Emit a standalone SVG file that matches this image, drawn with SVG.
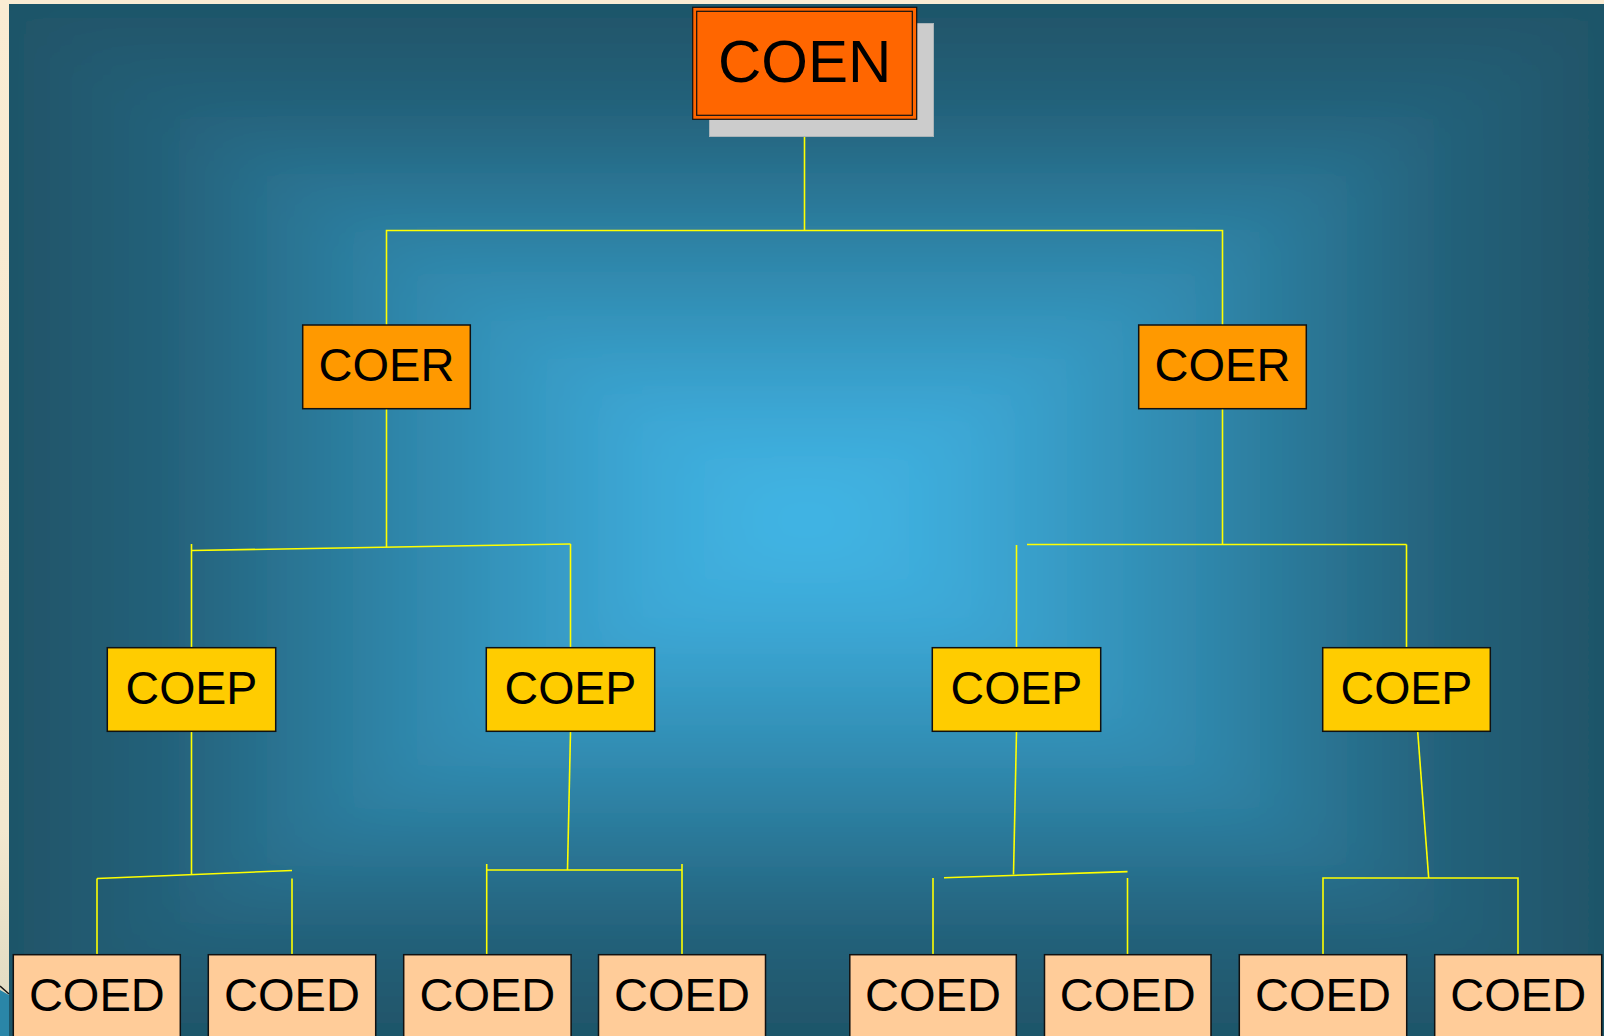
<svg xmlns="http://www.w3.org/2000/svg" width="1604" height="1036" viewBox="0 0 1604 1036">
<style>
.lbl{font-family:"Liberation Sans",Arial,sans-serif;fill:#000;text-anchor:middle}
.box{stroke:#111;stroke-width:1.5}
.er{fill:#ff9900}
.ep{fill:#ffcc00}
.ed{fill:#ffcc99}
#connectors line,#connectors polyline{stroke:#ffff00;stroke-width:1.6;fill:none}
</style>
<defs>
<linearGradient id="gT" gradientUnits="userSpaceOnUse" x1="0" y1="4" x2="0" y2="520">
<stop offset="0" stop-color="#1f5468"/><stop offset="0.2" stop-color="#24617a"/><stop offset="0.5" stop-color="#2f87ab"/><stop offset="0.8" stop-color="#3ca8d6"/><stop offset="1" stop-color="#43b7e7"/>
</linearGradient>
<linearGradient id="gB" gradientUnits="userSpaceOnUse" x1="0" y1="1036" x2="0" y2="520">
<stop offset="0" stop-color="#1f5468"/><stop offset="0.2" stop-color="#24617a"/><stop offset="0.5" stop-color="#2f87ab"/><stop offset="0.8" stop-color="#3ca8d6"/><stop offset="1" stop-color="#43b7e7"/>
</linearGradient>
<linearGradient id="gL" gradientUnits="userSpaceOnUse" x1="9" y1="0" x2="806.5" y2="0">
<stop offset="0" stop-color="#1f5468"/><stop offset="0.2" stop-color="#24617a"/><stop offset="0.5" stop-color="#2f87ab"/><stop offset="0.8" stop-color="#3ca8d6"/><stop offset="1" stop-color="#43b7e7"/>
</linearGradient>
<linearGradient id="gR" gradientUnits="userSpaceOnUse" x1="1604" y1="0" x2="806.5" y2="0">
<stop offset="0" stop-color="#1f5468"/><stop offset="0.2" stop-color="#24617a"/><stop offset="0.5" stop-color="#2f87ab"/><stop offset="0.8" stop-color="#3ca8d6"/><stop offset="1" stop-color="#43b7e7"/>
</linearGradient>
<linearGradient id="cream" x1="0" y1="0" x2="0" y2="1">
<stop offset="0" stop-color="#faecd3"/><stop offset="0.8" stop-color="#f3e8cf"/><stop offset="1" stop-color="#ddd9c0"/>
</linearGradient>
<filter id="soft" filterUnits="userSpaceOnUse" x="-150" y="-150" width="1904" height="1336">
<feGaussianBlur stdDeviation="28"/>
</filter>
<clipPath id="bgclip"><rect x="9" y="4" width="1595" height="1032"/></clipPath>
</defs>
<rect x="0" y="0" width="1604" height="1036" fill="url(#cream)"/>
<g id="background" clip-path="url(#bgclip)">
<g filter="url(#soft)">
<rect x="-140" y="-140" width="1884" height="1316" fill="#1f5468"/>
<polygon points="9,4 1604,4 806.5,520" fill="url(#gT)" stroke="url(#gT)" stroke-width="1"/>
<polygon points="9,1036 1604,1036 806.5,520" fill="url(#gB)" stroke="url(#gB)" stroke-width="1"/>
<polygon points="9,4 9,1036 806.5,520" fill="url(#gL)" stroke="url(#gL)" stroke-width="1"/>
<polygon points="1604,4 1604,1036 806.5,520" fill="url(#gR)" stroke="url(#gR)" stroke-width="1"/>
</g>
</g>
<polygon points="0,990 9,995 9,1036 0,1036" fill="#2a86a8"/>
<polyline points="0,986 9,994" stroke="#111" stroke-width="1.5" fill="none"/>
<g id="connectors">
<line x1="804.5" y1="119" x2="804.5" y2="230.5"/>
<polyline points="386.5,325 386.5,230.5 1222.5,230.5 1222.5,325"/>
<line x1="386.5" y1="409" x2="386.5" y2="547"/>
<line x1="191.5" y1="550.5" x2="570.5" y2="544"/>
<line x1="191.5" y1="544" x2="191.5" y2="648"/>
<line x1="570.5" y1="544" x2="570.5" y2="648"/>
<line x1="1222.5" y1="409" x2="1222.5" y2="544.5"/>
<line x1="1027" y1="544.5" x2="1406.5" y2="544.5"/>
<line x1="1016.5" y1="545" x2="1016.5" y2="648"/>
<line x1="1406.5" y1="544.5" x2="1406.5" y2="648"/>
<line x1="191.5" y1="731.5" x2="191.5" y2="874"/>
<line x1="97" y1="878.5" x2="292" y2="870.5"/>
<line x1="97" y1="878.5" x2="97" y2="955"/>
<line x1="292" y1="878.5" x2="292" y2="955"/>
<line x1="570.5" y1="731.5" x2="567.5" y2="870"/>
<line x1="486.7" y1="870" x2="682" y2="870"/>
<line x1="486.7" y1="864" x2="486.7" y2="955"/>
<line x1="682" y1="864" x2="682" y2="955"/>
<line x1="1016.5" y1="731.5" x2="1013.5" y2="874.5"/>
<line x1="944" y1="877.7" x2="1127.5" y2="871.6"/>
<line x1="933" y1="878" x2="933" y2="955"/>
<line x1="1127.5" y1="878" x2="1127.5" y2="955"/>
<line x1="1417.7" y1="731.5" x2="1428.7" y2="878"/>
<polyline points="1323,955 1323,878 1518,878 1518,955"/>
</g>
<g id="node-coen">
<rect x="709.5" y="23.5" width="224" height="113" fill="#cccccc" stroke="#aab4b8" stroke-width="1"/>
<rect x="692.7" y="7.3" width="224" height="112" fill="#ff6600" stroke="#111" stroke-width="1.2"/>
<rect x="696.7" y="11.3" width="215.6" height="104" fill="none" stroke="#111" stroke-width="1.2"/>
<text class="lbl" x="804.7" y="81.7" font-size="60">COEN</text>
</g>
<g id="node-coer-1">
<rect class="box er" x="302.7" y="325" width="167.6" height="83.7"/>
<text class="lbl" x="386.5" y="381.3" font-size="47">COER</text>
</g>
<g id="node-coer-2">
<rect class="box er" x="1138.7" y="325" width="167.6" height="83.7"/>
<text class="lbl" x="1222.5" y="381.3" font-size="47">COER</text>
</g>
<g id="node-coep-1">
<rect class="box ep" x="107.3" y="647.7" width="168.4" height="83.6"/>
<text class="lbl" x="191.5" y="704" font-size="46.5">COEP</text>
</g>
<g id="node-coep-2">
<rect class="box ep" x="486.3" y="647.7" width="168.4" height="83.6"/>
<text class="lbl" x="570.5" y="704" font-size="46.5">COEP</text>
</g>
<g id="node-coep-3">
<rect class="box ep" x="932.3" y="647.7" width="168.4" height="83.6"/>
<text class="lbl" x="1016.5" y="704" font-size="46.5">COEP</text>
</g>
<g id="node-coep-4">
<rect class="box ep" x="1322.7" y="647.7" width="167.6" height="83.6"/>
<text class="lbl" x="1406.5" y="704" font-size="46.5">COEP</text>
</g>
<g id="node-coed-1"><rect class="box ed" x="13.3" y="954.7" width="167" height="90"/><text class="lbl" x="96.8" y="1010.7" font-size="47">COED</text></g>
<g id="node-coed-2"><rect class="box ed" x="208.3" y="954.7" width="167.4" height="90"/><text class="lbl" x="292" y="1010.7" font-size="47">COED</text></g>
<g id="node-coed-3"><rect class="box ed" x="403.7" y="954.7" width="167.4" height="90"/><text class="lbl" x="487.4" y="1010.7" font-size="47">COED</text></g>
<g id="node-coed-4"><rect class="box ed" x="598.5" y="954.7" width="167" height="90"/><text class="lbl" x="682" y="1010.7" font-size="47">COED</text></g>
<g id="node-coed-5"><rect class="box ed" x="849.8" y="954.7" width="166.5" height="90"/><text class="lbl" x="933" y="1010.7" font-size="47">COED</text></g>
<g id="node-coed-6"><rect class="box ed" x="1044.5" y="954.7" width="166.5" height="90"/><text class="lbl" x="1127.7" y="1010.7" font-size="47">COED</text></g>
<g id="node-coed-7"><rect class="box ed" x="1239.3" y="954.7" width="167.4" height="90"/><text class="lbl" x="1323" y="1010.7" font-size="47">COED</text></g>
<g id="node-coed-8"><rect class="box ed" x="1434.7" y="954.7" width="167" height="90"/><text class="lbl" x="1518.2" y="1010.7" font-size="47">COED</text></g>
</svg>
